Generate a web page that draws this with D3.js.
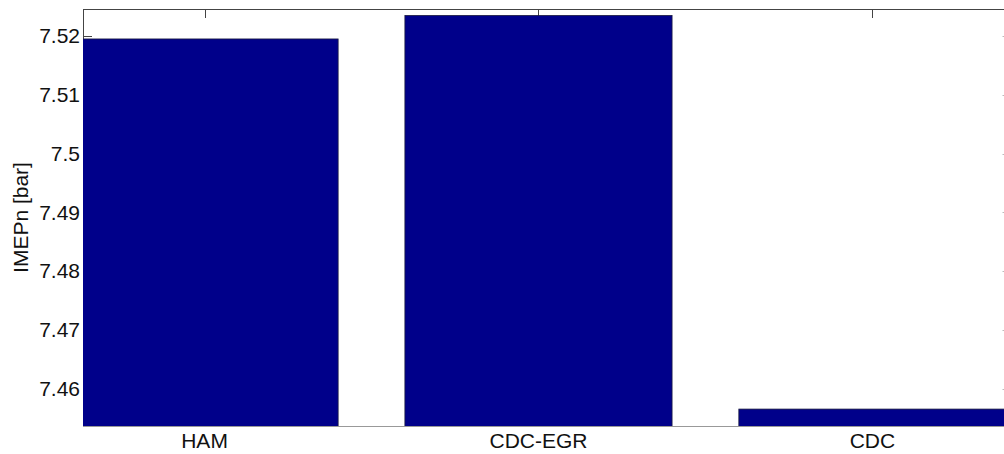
<!DOCTYPE html>
<html>
<head>
<meta charset="utf-8">
<script src="https://cdn.jsdelivr.net/npm/d3@7/dist/d3.min.js"></script>
<style>
  html, body { margin: 0; padding: 0; background: #fff; }
  svg { display: block; }
  text { font-family: "Liberation Sans", Arial, Helvetica, sans-serif; fill: #111; }
</style>
</head>
<body>
<svg id="chart" width="1004" height="454"></svg>
<script>
// Net indicated mean effective pressure per combustion mode
const categories = ["HAM", "CDC-EGR", "CDC"];
const imepValues = [7.5195, 7.5235, 7.4565];
const yTickValues = [7.46, 7.47, 7.48, 7.49, 7.5, 7.51, 7.52];
const yTickLabels = ["7.46", "7.47", "7.48", "7.49", "7.5", "7.51", "7.52"];
const yLimits = [7.45362, 7.5246];
const xLimits = [0.636, 3.415];

const svg = d3.select("#chart");
const plot = { left: 83, right: 1011, top: 9, bottom: 426 };

const x = d3.scaleLinear().domain(xLimits).range([plot.left, plot.right]);
const y = d3.scaleLinear().domain(yLimits).range([plot.bottom, plot.top]);
const barWidth = 0.8;

svg.append("defs").append("clipPath").attr("id", "plot-clip")
  .append("rect")
  .attr("x", plot.left).attr("y", plot.top)
  .attr("width", plot.right - plot.left).attr("height", plot.bottom - plot.top);

// Box outline with inward ticks
const frame = svg.append("g");
frame.append("line")
  .attr("x1", plot.left).attr("x2", plot.right).attr("y1", plot.top + 0.5).attr("y2", plot.top + 0.5)
  .attr("stroke", "#444").attr("stroke-width", 1);
frame.append("line")
  .attr("x1", plot.left).attr("x2", plot.right).attr("y1", plot.bottom + 0.5).attr("y2", plot.bottom + 0.5)
  .attr("stroke", "#999").attr("stroke-width", 1);
frame.append("line")
  .attr("x1", plot.left + 0.5).attr("x2", plot.left + 0.5).attr("y1", plot.top).attr("y2", plot.bottom)
  .attr("stroke", "#444").attr("stroke-width", 1);
frame.append("line")
  .attr("x1", plot.right + 0.5).attr("x2", plot.right + 0.5).attr("y1", plot.top).attr("y2", plot.bottom)
  .attr("stroke", "#444").attr("stroke-width", 1);

const positions = categories.map((c, i) => i + 1);

// Category ticks on top edge
frame.selectAll(".xtick-top").data(positions).enter().append("line")
  .attr("x1", d => Math.round(x(d)) + 0.5).attr("x2", d => Math.round(x(d)) + 0.5)
  .attr("y1", plot.top).attr("y2", plot.top + 9)
  .attr("stroke", "#444");

// Value ticks on left and right edges
frame.selectAll(".ytick-left").data(yTickValues).enter().append("line")
  .attr("x1", plot.left).attr("x2", plot.left + 9)
  .attr("y1", d => Math.round(y(d)) + 0.5).attr("y2", d => Math.round(y(d)) + 0.5)
  .attr("stroke", "#444");
frame.selectAll(".ytick-right").data(yTickValues).enter().append("line")
  .attr("x1", plot.right - 8.5).attr("x2", plot.right)
  .attr("y1", d => Math.round(y(d)) + 0.5).attr("y2", d => Math.round(y(d)) + 0.5)
  .attr("stroke", "#bbb");

// Bars, clipped to the axes box
svg.append("g").attr("clip-path", "url(#plot-clip)")
  .selectAll("rect").data(imepValues).enter().append("rect")
  .attr("x", (d, i) => x(positions[i] - barWidth / 2))
  .attr("width", (d, i) => x(positions[i] + barWidth / 2) - x(positions[i] - barWidth / 2))
  .attr("y", d => y(d))
  .attr("height", d => plot.bottom + 20 - y(d))
  .attr("fill", "#00008a")
  .attr("stroke", "#1a1a40")
  .attr("stroke-width", 0.8);

// Y tick labels
svg.append("g").selectAll("text").data(yTickValues).enter().append("text")
  .attr("x", plot.left - 3)
  .attr("y", d => y(d))
  .attr("dy", "0.35em")
  .attr("text-anchor", "end")
  .attr("font-size", 21)
  .text((d, i) => yTickLabels[i]);

// Category labels
svg.append("g").selectAll("text").data(categories).enter().append("text")
  .attr("x", (d, i) => x(positions[i]))
  .attr("y", 448)
  .attr("text-anchor", "middle")
  .attr("font-size", 21)
  .text(d => d);

// Y axis title
svg.append("text")
  .attr("transform", `translate(28, ${(plot.top + plot.bottom) / 2}) rotate(-90)`)
  .attr("text-anchor", "middle")
  .attr("font-size", 21)
  .text("IMEPn [bar]");
</script>
</body>
</html>
